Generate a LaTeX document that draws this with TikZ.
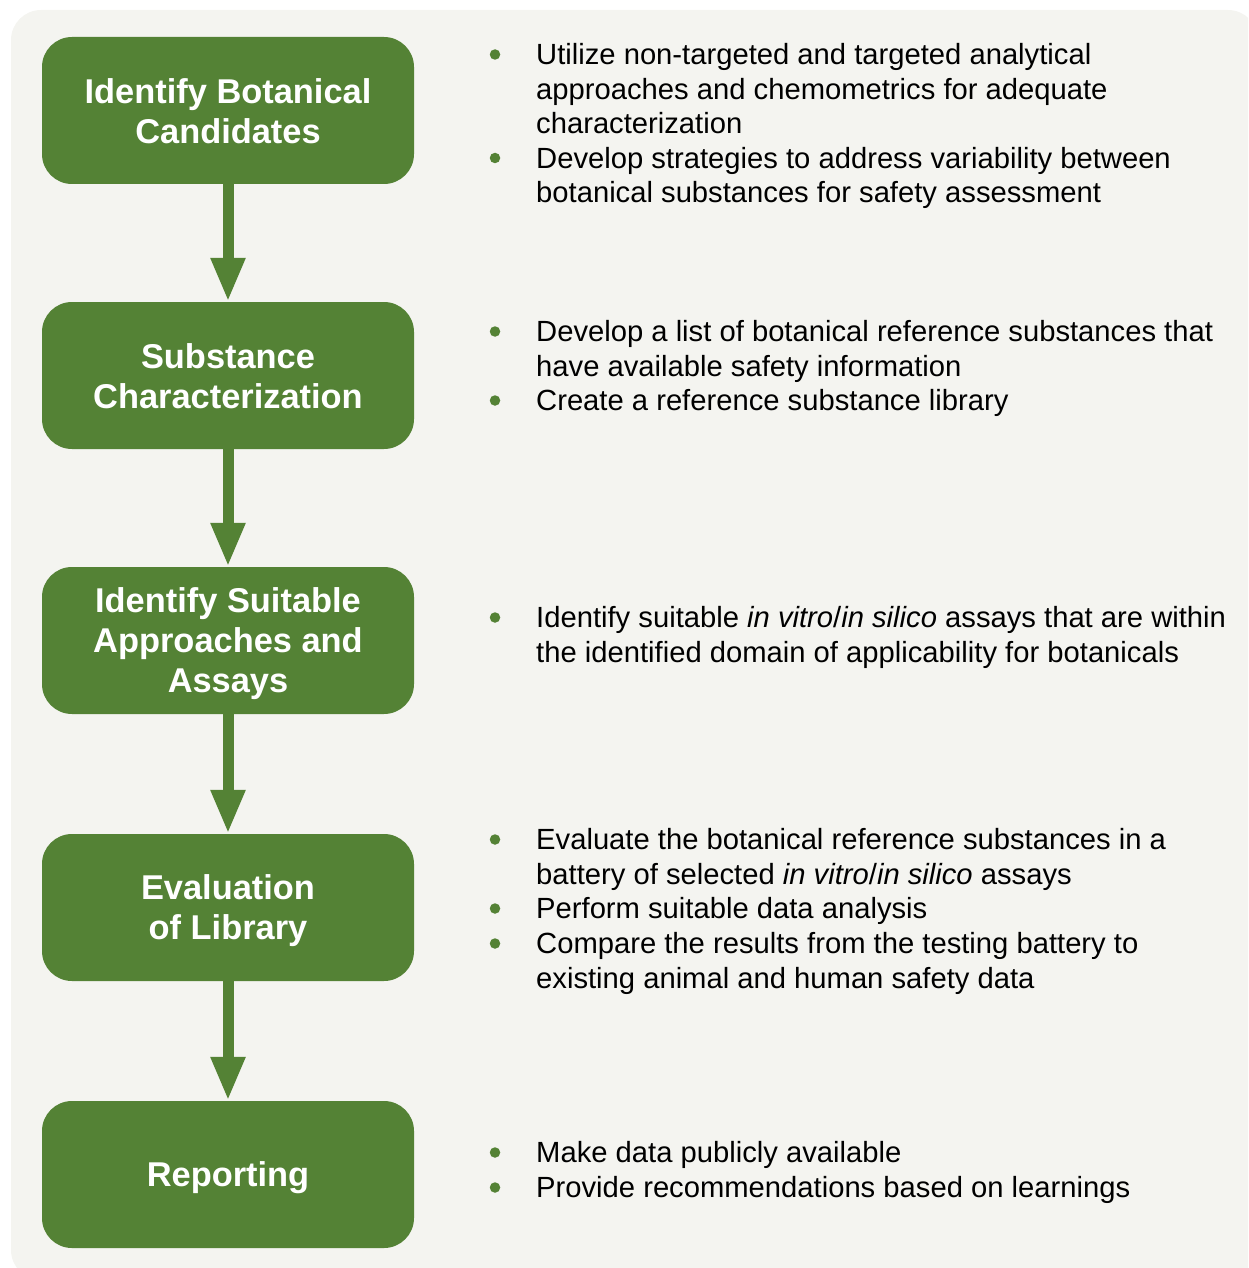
\documentclass[tikz,border=0pt]{standalone}
\usepackage{fontspec}
\setmainfont{Liberation Sans}
\usetikzlibrary{arrows.meta}
\definecolor{boxgreen}{HTML}{548235}
\definecolor{bgc}{HTML}{F4F4F0}
\tikzset{
  stepbox/.style={fill=boxgreen, draw=none, rounded corners=30pt, minimum width=372pt, minimum height=147pt,
    inner sep=0pt, text=white, align=center, font=\fontsize{34.4pt}{40pt}\selectfont\bfseries},
  flowarrow/.style={draw=boxgreen, line width=11pt, -{Triangle[width=32pt,length=44pt]}},
  bullettext/.style={anchor=north west, inner sep=0pt, align=left, text=black,
    font=\fontsize{29.2pt}{34.5pt}\selectfont},
  dot/.style={circle, fill=boxgreen, draw=none, minimum size=10.5pt, inner sep=0pt}
}
\newcommand{\fs}{\rule{0pt}{24pt}}
\newcommand{\bs}{\rule{0pt}{31.5pt}}
\newcommand{\bss}{\rule{0pt}{27pt}}
\begin{document}
\begin{tikzpicture}[x=1pt,y=-1pt]
\useasboundingbox (0,0) rectangle (1248,1268);
\begin{scope}
\clip (0,0) rectangle (1248,1268);
\fill[bgc, rounded corners=30pt] (11,10) rectangle (1258,1280);
\end{scope}

\node[stepbox] (b1) at (228,110.5) {\bss Identify Botanical\\Candidates};
\node[stepbox] (b2) at (228,375.5) {\bss Substance\\Characterization};
\node[stepbox] (b3) at (228,640.5) {\bs Identify Suitable\\Approaches and\\Assays};
\node[stepbox] (b4) at (228,907.5) {\bs Evaluation\\of Library};
\node[stepbox] (b5) at (228,1174.5) {\bs Reporting};

\draw[flowarrow] (b1.south) -- (b2.north);
\draw[flowarrow] (b2.south) -- (b3.north);
\draw[flowarrow] (b3.south) -- (b4.north);
\draw[flowarrow] (b4.south) -- (b5.north);

% block 1
\node[dot] (d11) at (495,54.5) {};
\node[bullettext] (t11) at (536,40.5) {\fs Utilize non-targeted and targeted analytical\\approaches and chemometrics for adequate\\characterization};
\node[dot] (d12) at (495,158) {};
\node[bullettext] (t12) at (536,144) {\fs Develop strategies to address variability between\\botanical substances for safety assessment};

% block 2
\node[dot] (d21) at (495,331.5) {};
\node[bullettext] (t21) at (536,317.5) {\fs Develop a list of botanical reference substances that\\have available safety information};
\node[dot] (d22) at (495,400.5) {};
\node[bullettext] (t22) at (536,386.5) {\fs Create a reference substance library};

% block 3
\node[dot] (d31) at (495,617.5) {};
\node[bullettext] (t31) at (536,603.5) {\fs Identify suitable \textit{in vitro}/\textit{in silico} assays that are within\\the identified domain of applicability for botanicals};

% block 4
\node[dot] (d41) at (495,839.5) {};
\node[bullettext] (t41) at (536,825.5) {\fs Evaluate the botanical reference substances in a\\battery of selected \textit{in vitro}/\textit{in silico} assays};
\node[dot] (d42) at (495,908.5) {};
\node[bullettext] (t42) at (536,894.5) {\fs Perform suitable data analysis};
\node[dot] (d43) at (495,943.5) {};
\node[bullettext] (t43) at (536,929.5) {\fs Compare the results from the testing battery to\\existing animal and human safety data};

% block 5
\node[dot] (d51) at (495,1152.5) {};
\node[bullettext] (t51) at (536,1138.5) {\fs Make data publicly available};
\node[dot] (d52) at (495,1187.5) {};
\node[bullettext] (t52) at (536,1173.5) {\fs Provide recommendations based on learnings};
\end{tikzpicture}
\end{document}
